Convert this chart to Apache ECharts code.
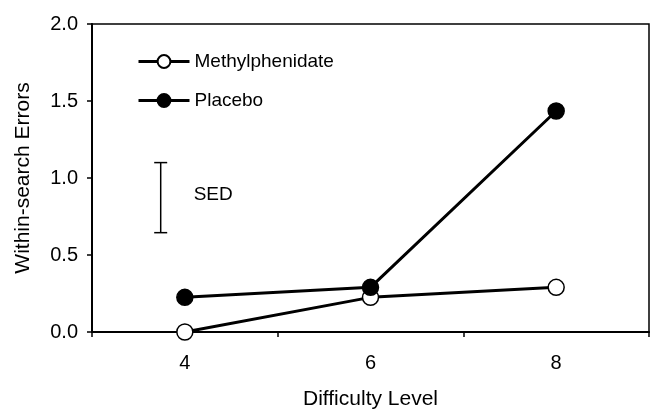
<!DOCTYPE html>
<html>
<head>
<meta charset="utf-8">
<script src="https://cdn.jsdelivr.net/npm/echarts@6/dist/echarts.min.js"></script>
<style>
  html, body { margin: 0; padding: 0; background: #fff; }
  #main { width: 652px; height: 411px; }
</style>
</head>
<body>
<div id="main"></div>
<script>
// difficulty levels and mean within-search errors
var levels = [4, 6, 8];
var methylphenidate = [0.0, 0.225, 0.29];
var placebo = [0.225, 0.29, 1.435];

// standard error of difference bar
var sedX = 3.74;
var sedRange = [0.645, 1.1];

var FONT = '"Liberation Sans", Arial, sans-serif';

var chartDom = document.getElementById('main');
var myChart = echarts.init(chartDom);
var option;

function pairs(ys) {
  return levels.map(function (x, i) { return [x, ys[i]]; });
}

option = {
  animation: false,
  textStyle: { fontFamily: FONT, color: '#000' },
  grid: {
    left: 92, right: 3, top: 24, bottom: 79,
    outerBoundsMode: 'none',
    show: true, borderColor: '#000', borderWidth: 1.5
  },
  legend: {
    orient: 'vertical',
    left: 132, top: 47,
    itemWidth: 51, itemHeight: 16, itemGap: 20,
    lineStyle: { width: 3 },
    textStyle: { fontFamily: FONT, fontSize: 19, color: '#000' },
    data: ['Methylphenidate', 'Placebo']
  },
  xAxis: [
    {
      type: 'value', min: 3, max: 9, interval: 1,
      name: 'Difficulty Level', nameLocation: 'middle', nameGap: 57,
      nameTextStyle: { fontFamily: FONT, fontSize: 21, color: '#000' },
      axisLine: { lineStyle: { color: '#000', width: 2 } },
      axisTick: { show: false },
      splitLine: { show: false },
      axisLabel: {
        fontFamily: FONT, fontSize: 20, color: '#000', margin: 21,
        formatter: function (v) { return v % 2 === 0 ? String(v) : ''; }
      }
    },
    {
      // tick marks only, at the odd levels
      type: 'value', min: 3, max: 9, interval: 2, position: 'bottom',
      axisLine: { show: false },
      axisTick: { show: true, length: 5, lineStyle: { color: '#000', width: 1.5 } },
      axisLabel: { show: false },
      splitLine: { show: false }
    }
  ],
  yAxis: {
    type: 'value', min: 0, max: 2, interval: 0.5,
    name: 'Within-search Errors', nameLocation: 'middle', nameGap: 58,
    nameTextStyle: { fontFamily: FONT, fontSize: 21, color: '#000' },
    axisLine: { show: true, lineStyle: { color: '#000', width: 2 } },
    axisTick: { show: true, length: 5, lineStyle: { color: '#000', width: 1.5 } },
    splitLine: { show: false },
    axisLabel: {
      fontFamily: FONT, fontSize: 20, color: '#000', margin: 14,
      formatter: function (v) { return v.toFixed(1); }
    }
  },
  series: [
    {
      name: 'Methylphenidate',
      type: 'line',
      data: pairs(methylphenidate),
      symbol: 'circle', symbolSize: 16,
      lineStyle: { color: '#000', width: 3 },
      itemStyle: { color: '#fff', borderColor: '#000', borderWidth: 1.5 },
      z: 2
    },
    {
      name: 'Placebo',
      type: 'line',
      data: pairs(placebo),
      symbol: 'circle', symbolSize: 16,
      lineStyle: { color: '#000', width: 3 },
      itemStyle: { color: '#000', borderColor: '#000', borderWidth: 1.5 },
      z: 3
    },
    {
      type: 'custom',
      silent: true,
      data: [[sedX, sedRange[0], sedRange[1]]],
      renderItem: function (params, api) {
        var lo = api.coord([api.value(0), api.value(1)]);
        var hi = api.coord([api.value(0), api.value(2)]);
        var cap = 6.5;
        var style = { stroke: '#000', lineWidth: 1.5 };
        return {
          type: 'group',
          children: [
            { type: 'line', shape: { x1: hi[0], y1: hi[1], x2: lo[0], y2: lo[1] }, style: style },
            { type: 'line', shape: { x1: hi[0] - cap, y1: hi[1], x2: hi[0] + cap, y2: hi[1] }, style: style },
            { type: 'line', shape: { x1: lo[0] - cap, y1: lo[1], x2: lo[0] + cap, y2: lo[1] }, style: style },
            {
              type: 'text',
              style: {
                text: 'SED', x: hi[0] + 33, y: (hi[1] + lo[1]) / 2 - 3,
                fill: '#000', font: '19px ' + FONT, verticalAlign: 'middle'
              }
            }
          ]
        };
      }
    }
  ]
};

option && myChart.setOption(option);
</script>
</body>
</html>
